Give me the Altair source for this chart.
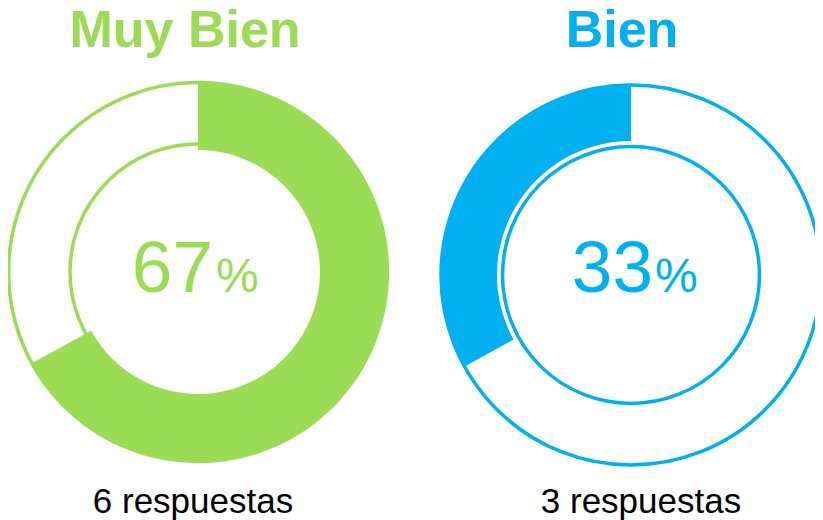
import math
import altair as alt
import pandas as pd

# ---- data ----
grupos = ["Muy Bien", "Bien"]
porcentajes = [67, 33]
respuestas = [6, 3]
direccion = ["horario", "antihorario"]
colores = ["#9BDC55", "#00B0F0"]

df = pd.DataFrame({
    "grupo": grupos,
    "porcentaje": porcentajes,
    "respuestas": respuestas,
    "direccion": direccion,
})

# ---- layout (per group, not data) ----
layout = {
    "Muy Bien": dict(cy=264, r=190.5, r_in=122, ring_r=189.5, ring_in=128,
                     t_dx=-13, t_dy=-225, n_dx=15, n_dy=20, p_dx=18,
                     r_dx=-5, r_dy=241),
    "Bien": dict(cy=267, r=190, r_in=134, ring_r=190, ring_in=128.5,
                 t_dx=-9, t_dy=-228, n_dx=22, n_dy=17, p_dx=24,
                 r_dx=10, r_dy=238),
}

FONT = "Liberation Sans"
xscale = alt.Scale(type="point", domain=grupos, range=[190, 623], padding=0)
cscale = alt.Scale(domain=grupos, range=colores)

base = alt.Chart(df).transform_calculate(
    inicio="datum.direccion == 'horario' ? 0 : 100 - datum.porcentaje",
    fin="datum.direccion == 'horario' ? datum.porcentaje : 100",
    etiqueta="datum.respuestas + ' respuestas'",
)

layers = []
for g, col in zip(grupos, colores):
    L = layout[g]
    b = base.transform_filter(alt.datum.grupo == g)
    x = alt.X("grupo:N", scale=xscale, axis=None)
    y = alt.value(L["cy"])
    ring = b.mark_arc(
        radius=L["ring_r"], radius2=L["ring_in"], theta=0, theta2=2 * math.pi,
        fill="white", stroke=col, strokeWidth=3.5,
    ).encode(x=x, y=y)
    filled = b.mark_arc(radius=L["r"], radius2=L["r_in"], strokeWidth=0).encode(
        x=x, y=y,
        theta=alt.Theta("inicio:Q", stack=None,
                        scale=alt.Scale(domain=[0, 100], range=[0, 2 * math.pi])),
        theta2="fin:Q",
        color=alt.Color("grupo:N", scale=cscale, legend=None),
    )
    title = b.mark_text(
        font=FONT, fontSize=52, fontWeight="bold", align="center",
        baseline="alphabetic", dx=L["t_dx"], dy=L["t_dy"], color=col,
    ).encode(x=x, y=y, text="grupo:N")
    num = b.mark_text(
        font=FONT, fontSize=73, align="right", baseline="alphabetic",
        dx=L["n_dx"], dy=L["n_dy"], color=col,
    ).encode(x=x, y=y, text=alt.Text("porcentaje:Q"))
    pct = b.mark_text(
        font=FONT, fontSize=48, align="left", baseline="alphabetic",
        dx=L["p_dx"], dy=L["n_dy"], color=col, text="%",
    ).encode(x=x, y=y)
    resp = b.mark_text(
        font=FONT, fontSize=35, align="center", baseline="alphabetic",
        dx=L["r_dx"], dy=L["r_dy"], color="#000000",
    ).encode(x=x, y=y, text="etiqueta:N")
    layers += [ring, filled, title, num, pct, resp]

chart = alt.layer(*layers).properties(
    width=807, height=512, padding=0, background="white",
    autosize=alt.AutoSizeParams(type="none"),
).configure_view(strokeWidth=0, stroke="transparent")

chart.save("out.html", embed_options={"renderer": "svg", "actions": False})
